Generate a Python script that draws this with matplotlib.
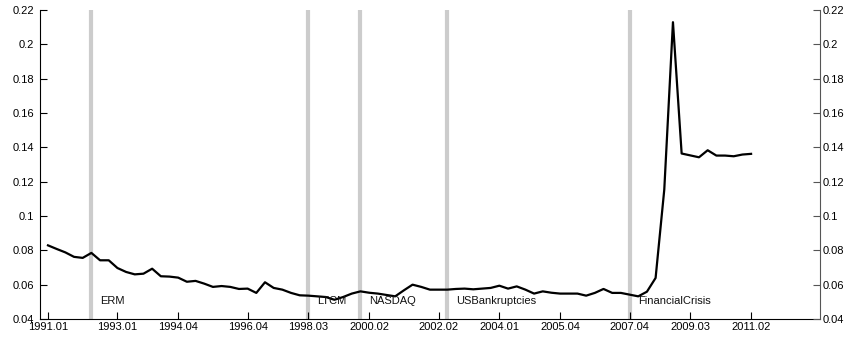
import matplotlib
matplotlib.use("Agg")
import matplotlib.pyplot as plt

plt.rcParams['font.family'] = ['Liberation Sans', 'DejaVu Sans']

# quarterly dates 1991.01 ... 2011.02
dates = [f"{y}.{q:02d}" for y in range(1991, 2012) for q in range(1, 5)][:82]

values = [
    0.0829, 0.0808, 0.0788, 0.0762, 0.0756, 0.0785, 0.0742, 0.0742, 0.0697, 0.0674,
    0.0660, 0.0664, 0.0693, 0.0649, 0.0647, 0.0641, 0.0617, 0.0622, 0.0606, 0.0587,
    0.0592, 0.0587, 0.0575, 0.0577, 0.0552, 0.0614, 0.0581, 0.0571, 0.0552, 0.0538,
    0.0536, 0.0532, 0.0528, 0.0512, 0.0528, 0.0548, 0.0561, 0.0553, 0.0548, 0.0540,
    0.0532, 0.0567, 0.0600, 0.0587, 0.0571, 0.0571, 0.0571, 0.0575, 0.0577, 0.0573,
    0.0577, 0.0581, 0.0594, 0.0577, 0.0590, 0.0571, 0.0548, 0.0561, 0.0553, 0.0548,
    0.0548, 0.0548, 0.0536, 0.0552, 0.0575, 0.0552, 0.0552, 0.0542, 0.0532, 0.0559,
    0.0639, 0.1154, 0.2129, 0.1364, 0.1353, 0.1342, 0.1383, 0.1352, 0.1352, 0.1348,
    0.1358, 0.1362,
]

tick_labels = ["1991.01", "1993.01", "1994.04", "1996.04", "1998.03", "2000.02",
               "2002.02", "2004.01", "2005.04", "2007.04", "2009.03", "2011.02"]

event_labels = ["ERM", "LTCM", "NASDAQ", "USBankruptcies", "FinancialCrisis"]
event_dates = ["1992.02", "1998.03", "2000.01", "2002.03", "2007.04"]

y_ticks = [0.04, 0.06, 0.08, 0.10, 0.12, 0.14, 0.16, 0.18, 0.20, 0.22]
y_tick_labels = ["0.04", "0.06", "0.08", "0.1", "0.12", "0.14", "0.16", "0.18", "0.2", "0.22"]

fig = plt.figure(figsize=(8.5, 3.42), dpi=100)
ax = fig.add_axes([40 / 850, 23 / 342, 780 / 850, 309 / 342])

x = list(range(len(dates)))

for lbl, d in zip(event_labels, event_dates):
    xi = dates.index(d)
    ax.axvline(xi, color="#cccccc", lw=3, zorder=1)
    ax.text(xi + 1, 0.0502, lbl, fontsize=8, ha="left", va="center", color="#111111", zorder=3)

ax.plot(x, values, color="black", lw=1.6, zorder=2)

ax.set_xlim(-0.92, 88.94)
ax.set_ylim(0.04, 0.22)
ax.set_xticks([dates.index(t) for t in tick_labels])
ax.set_xticklabels(tick_labels)
ax.set_yticks(y_ticks)
ax.set_yticklabels(y_tick_labels)

ax.tick_params(axis="x", direction="in", length=5, width=0.8, labelsize=8, pad=2)
ax.tick_params(axis="y", direction="in", length=5, width=0.8, labelsize=8, pad=4)
ax.spines["top"].set_visible(False)
ax.spines["right"].set_visible(False)
ax.spines["left"].set_linewidth(0.8)
ax.spines["bottom"].set_linewidth(0.8)

ax2 = ax.twinx()
ax2.set_ylim(0.04, 0.22)
ax2.set_yticks(y_ticks)
ax2.set_yticklabels(y_tick_labels)
ax2.tick_params(axis="y", direction="in", length=5, width=0.8, labelsize=8, pad=2,
                color="#555555")
for s in ["top", "left", "bottom"]:
    ax2.spines[s].set_visible(False)
ax2.spines["right"].set_color("#555555")
ax2.spines["right"].set_linewidth(0.8)

fig.savefig("out.png", dpi=100)
